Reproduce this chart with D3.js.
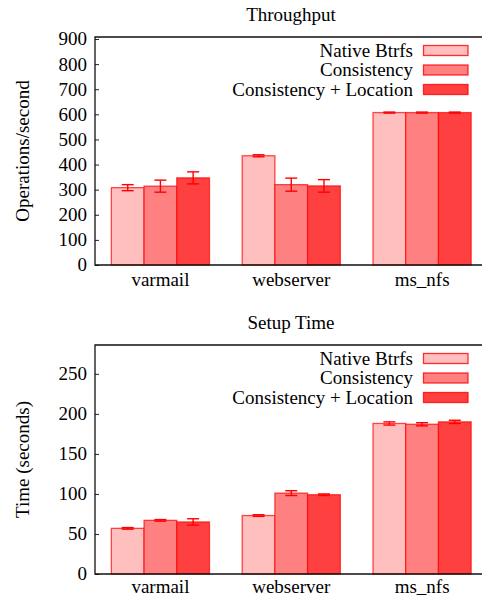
<!DOCTYPE html>
<html>
<head>
<meta charset="utf-8">
<script src="https://cdn.jsdelivr.net/npm/d3@7"></script>
<style>
  body { margin: 0; background: #fff; }
</style>
</head>
<body>
<div id="chart"></div>
<script>
// categories and series
const categories = ["varmail", "webserver", "ms_nfs"];
const seriesNames = ["Native Btrfs", "Consistency", "Consistency + Location"];
const colors = ["#ffbfbf", "#ff8080", "#ff4040"];

// Throughput (operations/second)
const tputNative = [308, 435, 607];
const tputNativeErr = [12, 4, 2];
const tputCons = [314, 320, 607];
const tputConsErr = [24, 26, 2];
const tputLoc = [347, 315, 607];
const tputLocErr = [24, 25, 2];
const tputTicks = [0, 100, 200, 300, 400, 500, 600, 700, 800, 900];

// Setup time (seconds)
const setupNative = [57, 73, 188];
const setupNativeErr = [1, 1, 2];
const setupCons = [67, 101, 187];
const setupConsErr = [1, 3, 2];
const setupLoc = [65, 99, 190];
const setupLocErr = [4, 1, 2];
const setupTicks = [0, 50, 100, 150, 200, 250];

let width = 482, height = 599;
const serif = "'Liberation Serif', 'Times New Roman', Times, Tinos, 'Noto Serif', 'DejaVu Serif', serif";

let svg = d3.select("#chart")
  .append("svg")
    .attr("width", width)
    .attr("height", height)
    .attr("font-family", serif)
    .style("font-family", serif);

function drawPanel(opts) {
    let left = 95, right = 487.5;
    let top = opts.top, bottom = opts.bottom;

    let x = d3.scaleBand()
      .domain(categories)
      .range([left, right])
      .paddingInner(0.25)
      .paddingOuter(0.125);
    let xs = d3.scaleBand()
      .domain(seriesNames)
      .range([0, x.bandwidth()]);
    let y = d3.scaleLinear()
      .domain([0, opts.ymax])
      .range([bottom, top]);

    let g = svg.append("g");

    // title
    g.append("text")
      .attr("x", 291)
      .attr("y", opts.titleY)
      .attr("text-anchor", "middle")
      .style("font-size", "19px")
      .text(opts.title);

    // y label
    g.append("text")
      .attr("transform", "translate(29," + ((top + bottom) / 2) + ") rotate(-90)")
      .attr("text-anchor", "middle")
      .style("font-size", "19px")
      .text(opts.ylabel);

    // bars
    let rows = [];
    opts.values.forEach(function(vals, si) {
        vals.forEach(function(v, ci) {
            rows.push({cat: categories[ci], s: seriesNames[si], si: si, v: v, e: opts.errors[si][ci]});
        });
    });

    g.append("g")
      .selectAll("rect")
      .data(rows)
      .enter()
      .append("rect")
        .attr("x", function(d) { return x(d.cat) + xs(d.s); })
        .attr("y", function(d) { return y(d.v); })
        .attr("width", xs.bandwidth())
        .attr("height", function(d) { return y(0) - y(d.v); })
        .attr("fill", function(d) { return colors[d.si]; })
        .attr("stroke", "#ff0000")
        .attr("stroke-opacity", 0.7)
        .attr("stroke-width", 1.3);

    // error bars
    let eb = g.append("g")
      .selectAll("g")
      .data(rows)
      .enter()
      .append("g")
        .attr("stroke", "#ff0000")
        .attr("stroke-width", 1.4);
    eb.append("line")
      .attr("x1", function(d) { return x(d.cat) + xs(d.s) + xs.bandwidth() / 2; })
      .attr("x2", function(d) { return x(d.cat) + xs(d.s) + xs.bandwidth() / 2; })
      .attr("y1", function(d) { return y(d.v - d.e); })
      .attr("y2", function(d) { return y(d.v + d.e); });
    [-1, 1].forEach(function(sgn) {
        eb.append("line")
          .attr("x1", function(d) { return x(d.cat) + xs(d.s) + xs.bandwidth() / 2 - 6; })
          .attr("x2", function(d) { return x(d.cat) + xs(d.s) + xs.bandwidth() / 2 + 6; })
          .attr("y1", function(d) { return y(d.v + sgn * d.e); })
          .attr("y2", function(d) { return y(d.v + sgn * d.e); });
    });

    // y axis ticks (inward) and labels
    let yAxis = g.append("g")
      .attr("transform", "translate(" + left + ",0)")
      .call(d3.axisRight(y).tickValues(opts.ticks).tickSize(4).tickFormat(""));
    yAxis.select(".domain").remove();
    yAxis.selectAll("line").attr("stroke", "#222").attr("stroke-width", 1);

    g.append("g")
      .selectAll("text")
      .data(opts.ticks)
      .enter()
      .append("text")
        .attr("x", left - 8)
        .attr("y", function(d) { return y(d); })
        .attr("dy", "0.34em")
        .attr("text-anchor", "end")
        .style("font-size", "19px")
        .text(function(d) { return d; });

    // frame
    g.append("path")
      .attr("d", "M" + right + "," + top + "H" + left + "V" + bottom + "H" + right)
      .attr("fill", "none")
      .attr("stroke", "#111")
      .attr("stroke-width", 1.3);

    // x labels
    g.append("g")
      .selectAll("text")
      .data(categories)
      .enter()
      .append("text")
        .attr("x", function(d) { return x(d) + x.bandwidth() / 2; })
        .attr("y", opts.xlabelY)
        .attr("text-anchor", "middle")
        .style("font-size", "19px")
        .text(function(d) { return d; });

    // legend
    let leg = g.append("g")
      .selectAll("g")
      .data(seriesNames)
      .enter()
      .append("g")
        .attr("transform", function(d, i) { return "translate(0," + (top + 13.5 + i * 19.5) + ")"; });
    leg.append("text")
      .attr("x", 413)
      .attr("dy", "0.34em")
      .attr("text-anchor", "end")
      .style("font-size", "19px")
      .text(function(d) { return d; });
    leg.append("rect")
      .attr("x", 423.5)
      .attr("y", -5)
      .attr("width", 44.5)
      .attr("height", 10)
      .attr("fill", function(d, i) { return colors[i]; })
      .attr("stroke", "#ff0000")
      .attr("stroke-opacity", 0.8)
      .attr("stroke-width", 1.3);
}

drawPanel({
    title: "Throughput", titleY: 21, ylabel: "Operations/second",
    top: 37, bottom: 265, ymax: 908, ticks: tputTicks, xlabelY: 286,
    values: [tputNative, tputCons, tputLoc],
    errors: [tputNativeErr, tputConsErr, tputLocErr]
});

drawPanel({
    title: "Setup Time", titleY: 329, ylabel: "Time (seconds)",
    top: 345, bottom: 574, ymax: 286, ticks: setupTicks, xlabelY: 593,
    values: [setupNative, setupCons, setupLoc],
    errors: [setupNativeErr, setupConsErr, setupLocErr]
});
</script>
</body>
</html>
